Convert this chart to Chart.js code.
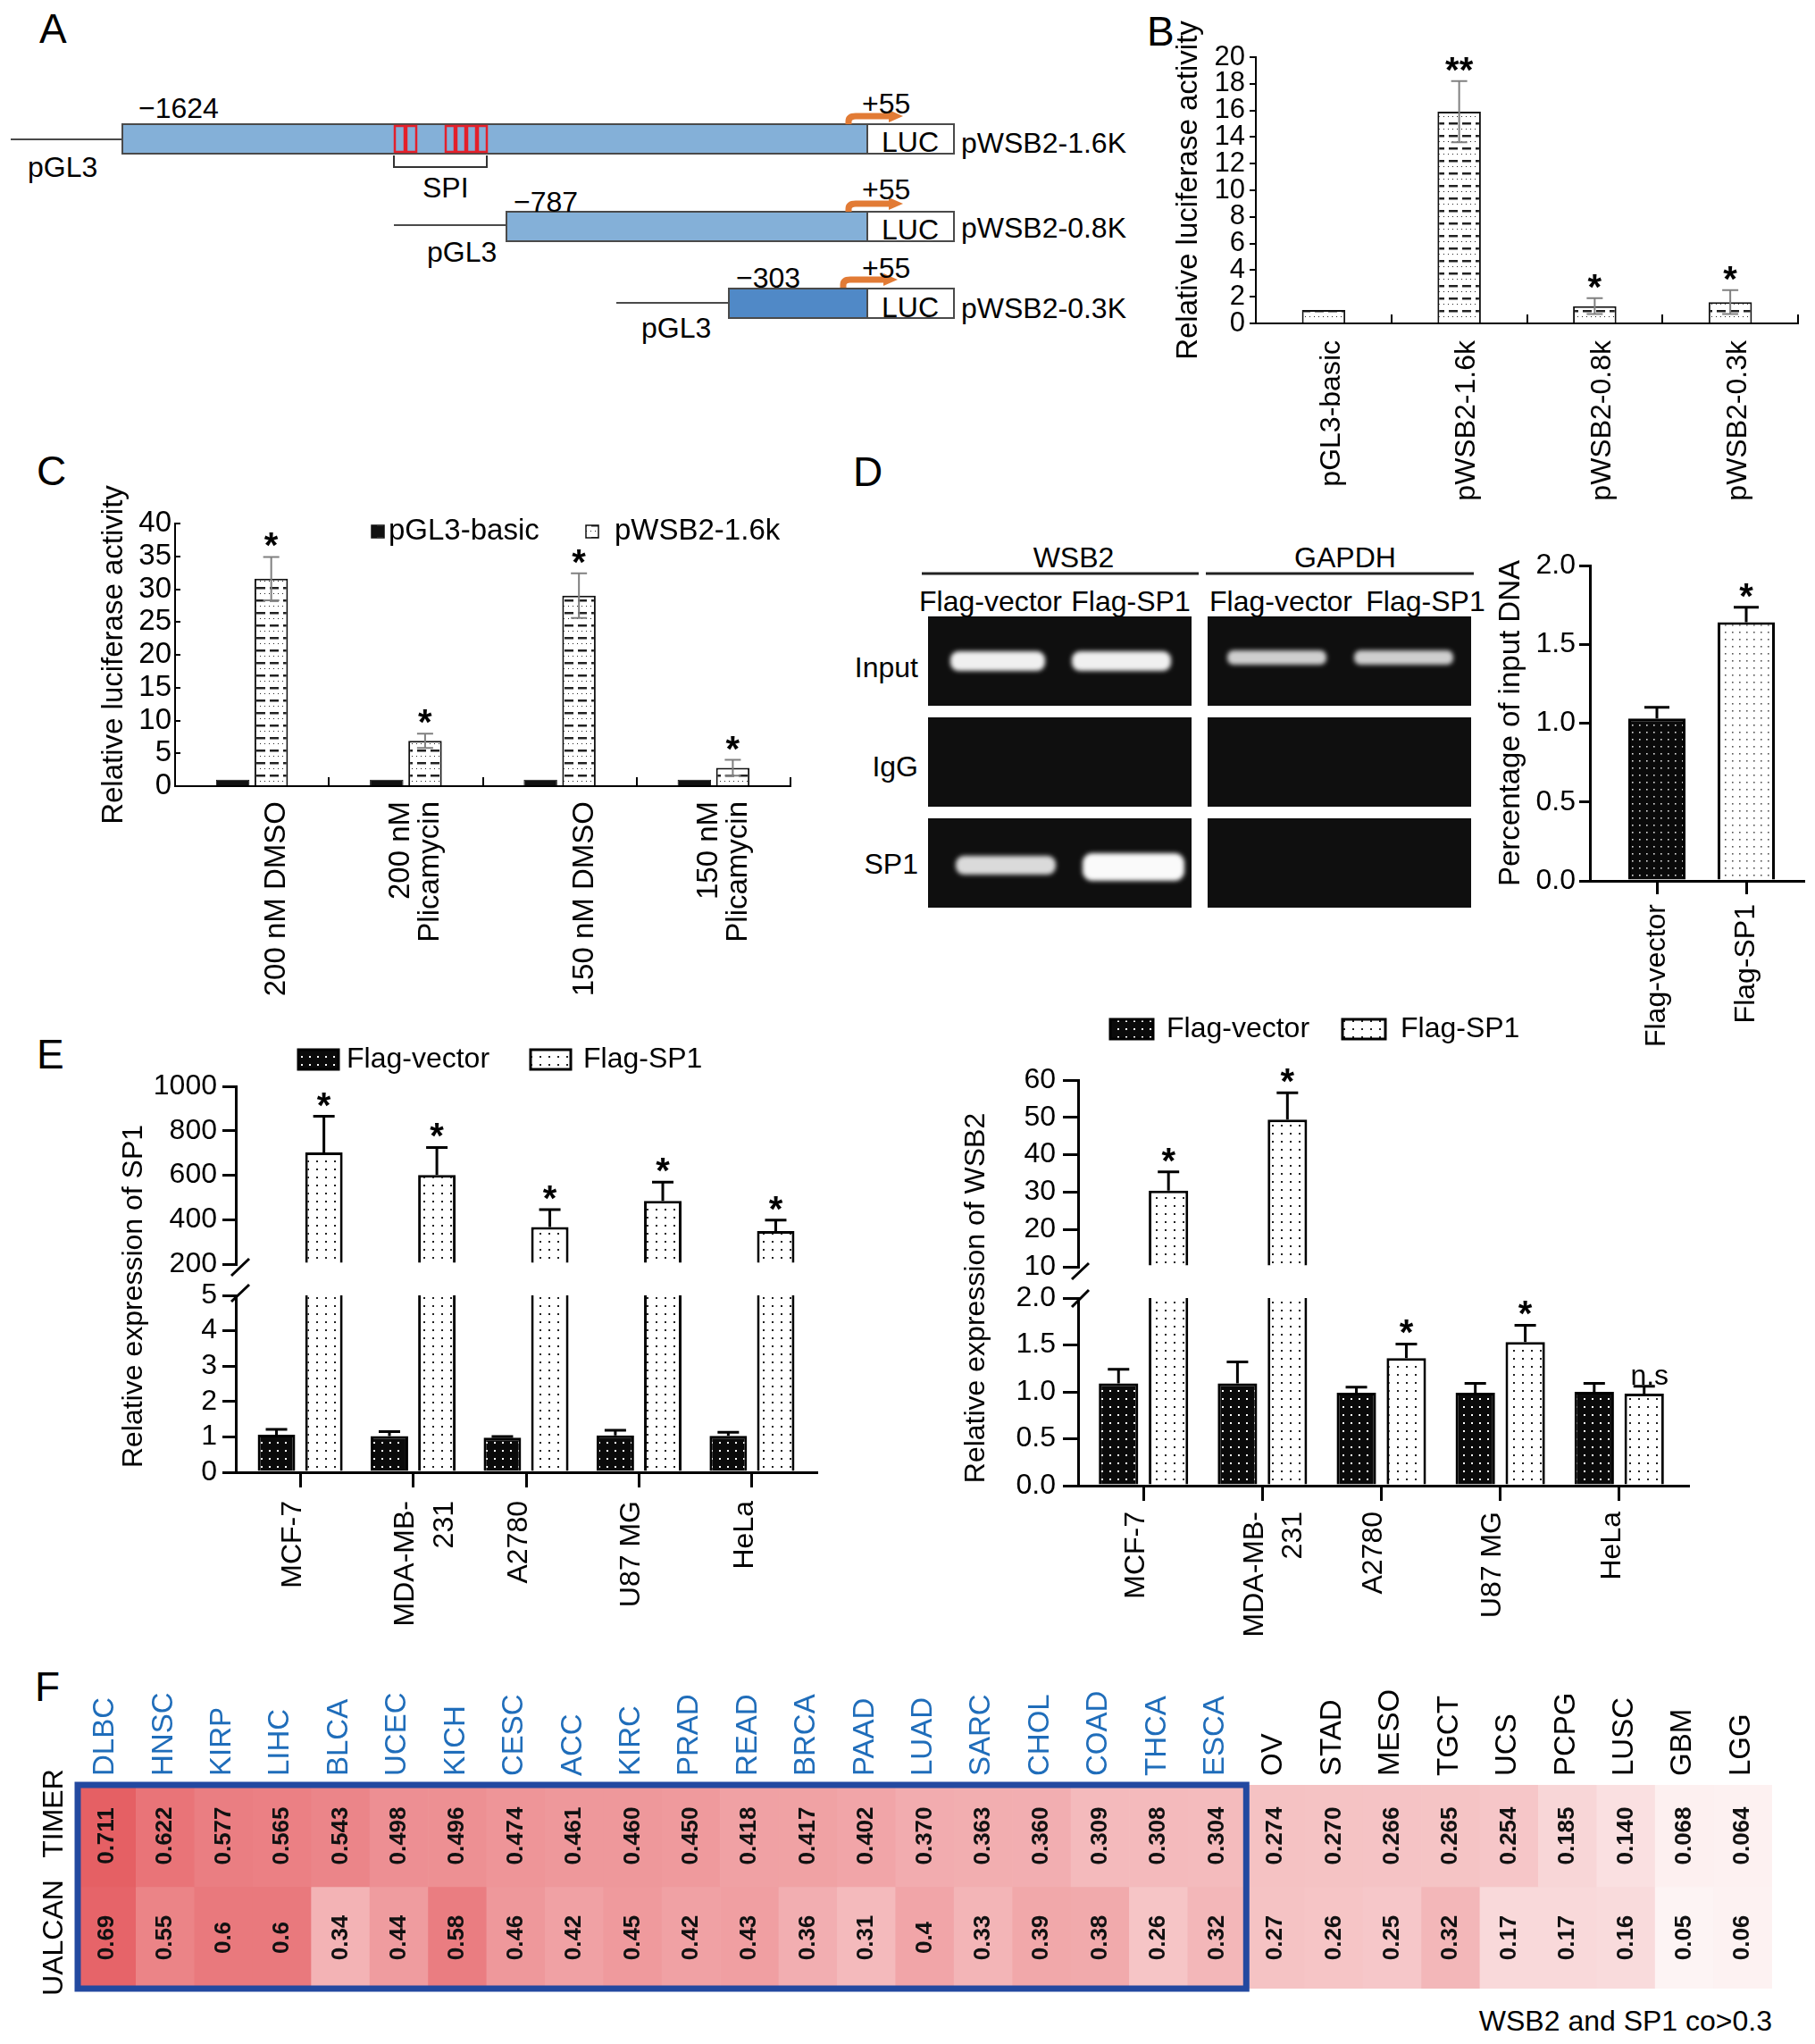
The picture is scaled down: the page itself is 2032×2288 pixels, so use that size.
<!DOCTYPE html>
<html>
<head>
<meta charset="utf-8">
<script src="https://cdn.jsdelivr.net/npm/chart.js@4.4.1/dist/chart.umd.min.js"></script>
<style>
  body { margin: 0; background: #fff; }
  #page { position: relative; width: 2032px; height: 2288px; overflow: hidden; }
  #page canvas, #page svg { position: absolute; left: 0; top: 0; }
</style>
</head>
<body>
<div id="page">
<svg width="2032" height="2288" font-family="'Liberation Sans', Arial, sans-serif" font-size="32">
  <defs>
    <filter id="glow" x="-20%" y="-80%" width="140%" height="260%"><feGaussianBlur stdDeviation="2.5"/></filter>
  </defs>
  <g font-size="46">
    <text x="44" y="48">A</text><text x="1284" y="51">B</text><text x="41" y="543">C</text>
    <text x="955" y="544">D</text><text x="41" y="1196">E</text><text x="39" y="1904">F</text>
  </g>

  <!-- panel A: promoter constructs -->
  <g stroke="#4a4a4a" stroke-width="2">
    <line x1="12" y1="156" x2="137" y2="156"/>
    <rect x="137" y="139" width="834" height="33" fill="#84b0d8"/>
    <rect x="971" y="139" width="97" height="33" fill="#fff"/>
    <line x1="441" y1="252" x2="567" y2="252"/>
    <rect x="567" y="237" width="404" height="33" fill="#84b0d8"/>
    <rect x="971" y="237" width="97" height="33" fill="#fff"/>
    <line x1="690" y1="339" x2="816" y2="339"/>
    <rect x="816" y="323" width="155" height="33" fill="#5089c7"/>
    <rect x="971" y="323" width="97" height="33" fill="#fff"/>
    <path d="M441 174V187H545V174" fill="none" stroke="#333"/>
  </g>
  <g fill="none" stroke="#e3202b" stroke-width="2.5">
    <rect x="442" y="141" width="11" height="29"/><rect x="455" y="141" width="11" height="29"/>
    <rect x="499" y="141" width="10" height="29"/><rect x="511" y="141" width="10" height="29"/>
    <rect x="523" y="141" width="10" height="29"/><rect x="535" y="141" width="10" height="29"/>
  </g>
  <g fill="none" stroke="#e27b35" stroke-width="7">
    <path d="M950 139V136Q950 130 958 130H999"/>
    <path d="M950 237V234Q950 228 958 228H999"/>
    <path d="M944 322V319Q944 313 952 313H993"/>
  </g>
  <g fill="#e27b35">
    <path d="M995 123L1011 130L995 137Z"/><path d="M995 221L1011 228L995 235Z"/><path d="M989 306L1005 313L989 320Z"/>
  </g>
  <g>
    <text x="155" y="132">−1624</text><text x="31" y="198">pGL3</text><text x="473" y="221">SPI</text>
    <text x="965" y="127">+55</text><text x="1019" y="170" text-anchor="middle">LUC</text><text x="1076" y="171">pWSB2-1.6K</text>
    <text x="575" y="237">−787</text><text x="478" y="293">pGL3</text>
    <text x="965" y="223">+55</text><text x="1019" y="268" text-anchor="middle">LUC</text><text x="1076" y="266">pWSB2-0.8K</text>
    <text x="824" y="322">−303</text><text x="718" y="378">pGL3</text>
    <text x="965" y="311">+55</text><text x="1019" y="355" text-anchor="middle">LUC</text><text x="1076" y="356">pWSB2-0.3K</text>
  </g>

  <!-- panel D: ChIP gels -->
  <g fill="#0f0f0f">
    <rect x="1039" y="690" width="295" height="100"/><rect x="1352" y="690" width="295" height="100"/>
    <rect x="1039" y="803" width="295" height="100"/><rect x="1352" y="803" width="295" height="100"/>
    <rect x="1039" y="916" width="295" height="100"/><rect x="1352" y="916" width="295" height="100"/>
  </g>
  <g filter="url(#glow)">
    <rect x="1064" y="729" width="106" height="22" rx="9" fill="#f0f0f0"/>
    <rect x="1200" y="729" width="111" height="22" rx="9" fill="#f0f0f0"/>
    <rect x="1374" y="728" width="111" height="16" rx="7" fill="#cfcfcf"/>
    <rect x="1516" y="728" width="111" height="16" rx="7" fill="#cfcfcf"/>
    <rect x="1070" y="958" width="112" height="21" rx="9" fill="#dadada"/>
    <rect x="1212" y="955" width="114" height="31" rx="11" fill="#fafafa"/>
  </g>
  <g stroke="#222" stroke-width="3">
    <line x1="1032" y1="642" x2="1342" y2="642"/><line x1="1350" y1="642" x2="1650" y2="642"/>
  </g>
  <g text-anchor="middle">
    <text x="1202" y="635">WSB2</text><text x="1506" y="635">GAPDH</text>
    <text x="1109" y="684">Flag-vector</text><text x="1266" y="684">Flag-SP1</text>
    <text x="1434" y="684">Flag-vector</text><text x="1596" y="684">Flag-SP1</text>
  </g>
  <g text-anchor="end">
    <text x="1028" y="758">Input</text><text x="1028" y="869">IgG</text><text x="1028" y="978">SP1</text>
    <text x="1984" y="2273">WSB2 and SP1 co&gt;0.3</text>
  </g>
</svg>
</div>
<script>
// ---------- data ----------
const bCats = ['pGL3-basic', 'pWSB2-1.6k', 'pWSB2-0.8k', 'pWSB2-0.3k'];
const bMean = [1.0, 15.9, 1.3, 1.6];
const bErr = [0, 2.3, 0.6, 0.9];
const bSig = ['', '**', '*', '*'];

const cCats = [['', '200 nM DMSO'], ['200 nM', 'Plicamycin'], ['', '150 nM DMSO'], ['150 nM', 'Plicamycin']];
const cBasic = [1.0, 1.0, 1.0, 1.0];
const cLong = [31.6, 6.9, 29.0, 2.8];
const cLongErr = [3.3, 1.1, 3.4, 1.2];
const cSig = ['*', '*', '*', '*'];

const dCats = ['Flag-vector', 'Flag-SP1'];
const dMean = [1.03, 1.64];
const dErr = [0.07, 0.095];
const dSig = ['', '*'];

const eCells = ['MCF-7', ['MDA-MB-', '231'], 'A2780', 'U87 MG', 'HeLa'];
const sp1Vec = [1.06, 1.02, 0.98, 1.04, 1.03];
const sp1VecErr = [0.15, 0.13, 0.03, 0.15, 0.10];
const sp1Sp1 = [703, 601, 367, 484, 349];
const sp1Sp1Err = [162, 124, 78, 85, 49];
const sp1Sig = ['*', '*', '*', '*', '*'];

const wsbVec = [1.09, 1.09, 0.99, 0.99, 1.0];
const wsbVecErr = [0.15, 0.23, 0.06, 0.10, 0.09];
const wsbSp1 = [30.4, 49.4, 1.36, 1.53, 0.98];
const wsbSp1Err = [5.0, 7.2, 0.15, 0.18, 0.08];
const wsbSig = ['*', '*', '*', '*', 'n.s'];

const cancers = ['DLBC', 'HNSC', 'KIRP', 'LIHC', 'BLCA', 'UCEC', 'KICH', 'CESC', 'ACC', 'KIRC', 'PRAD', 'READ',
  'BRCA', 'PAAD', 'LUAD', 'SARC', 'CHOL', 'COAD', 'THCA', 'ESCA', 'OV', 'STAD', 'MESO', 'TGCT', 'UCS', 'PCPG',
  'LUSC', 'GBM', 'LGG'];
const timerCo = [0.711, 0.622, 0.577, 0.565, 0.543, 0.498, 0.496, 0.474, 0.461, 0.460, 0.450, 0.418, 0.417,
  0.402, 0.370, 0.363, 0.360, 0.309, 0.308, 0.304, 0.274, 0.270, 0.266, 0.265, 0.254, 0.185, 0.140, 0.068, 0.064];
const ualcanCo = [0.69, 0.55, 0.6, 0.6, 0.34, 0.44, 0.58, 0.46, 0.42, 0.45, 0.42, 0.43, 0.36, 0.31, 0.4, 0.33,
  0.39, 0.38, 0.26, 0.32, 0.27, 0.26, 0.25, 0.32, 0.17, 0.17, 0.16, 0.05, 0.06];
const boxedCount = 20;

// ---------- setup ----------
const FONT = "'Liberation Sans', Arial, sans-serif";
Chart.defaults.font.family = FONT;
Chart.defaults.font.size = 32;
Chart.defaults.color = '#000';
Chart.defaults.responsive = false;
Chart.defaults.animation = false;
Chart.defaults.events = [];
Chart.defaults.plugins.legend.display = false;
Chart.defaults.plugins.tooltip.enabled = false;

const page = document.getElementById('page');
function mkCanvas(left, top, w, h) {
  const c = document.createElement('canvas');
  c.width = w;
  c.height = h;
  c.style.cssText = `left:${left}px;top:${top}px;width:${w}px;height:${h}px`;
  page.appendChild(c);
  return c;
}

// fill patterns
function tile(w, h, bg, color, marks) {
  const c = document.createElement('canvas');
  c.width = w;
  c.height = h;
  const g = c.getContext('2d');
  g.fillStyle = bg;
  g.fillRect(0, 0, w, h);
  g.fillStyle = color;
  marks.forEach(m => g.fillRect(m[0], m[1], m[2], m[3]));
  return g.createPattern(c, 'repeat');
}
const dashFill = tile(15, 14, '#fff', '#222', [[2, 5, 10, 2.5], [1, 12, 1, 1], [6, 12, 1, 1], [11, 12, 1, 1]]);
const darkDash = tile(15, 14, '#111', '#888', [[2, 5, 10, 2]]);
const vecDots = tile(9, 9, '#0a0a0a', '#fff', [[4, 4, 2, 2]]);
const sp1Dots = tile(10, 9, '#fff', '#222', [[4, 4, 2, 2]]);
const vecDotsD = tile(8, 8, '#0a0a0a', '#ddd', [[3, 3, 1.6, 1.6]]);
const sp1DotsD = tile(8, 8, '#fff', '#555', [[3, 3, 1.6, 1.6]]);

const fixW = w => s => { s.width = w; s.paddingTop = 0; s.paddingBottom = 0; };
const fixH = h => s => { s.height = h; s.paddingLeft = 0; s.paddingRight = 0; };
const blackLine = w => ({ color: '#000', width: w });
// one tick per category index on a linear x axis
const indexTicks = cats => s => { s.ticks = cats.map((c, i) => ({ value: i })); };

// ---------- plugins ----------
const errBars = {
  id: 'errBars',
  afterDatasetsDraw(chart, args, o) {
    if (!o.err) return;
    const { ctx, chartArea: ca } = chart;
    const y = chart.scales.y;
    chart.data.datasets.forEach((ds, di) => {
      const errs = o.err[di];
      const sig = o.sig ? o.sig[di] : null;
      chart.getDatasetMeta(di).data.forEach((bar, i) => {
        const raw = ds.data[i];
        const v = typeof raw === 'object' ? raw.y : raw;
        const e = errs ? errs[i] : 0;
        const top = y.getPixelForValue(v + e);
        ctx.save();
        ctx.beginPath();
        ctx.rect(ca.left, ca.top - 4, ca.width, ca.height + 4);
        ctx.clip();
        if (e) {
          const bot = y.getPixelForValue(o.both ? v - e : v);
          const hc = o.cap / 2;
          ctx.strokeStyle = o.color;
          ctx.lineWidth = o.width;
          ctx.beginPath();
          ctx.moveTo(bar.x, bot);
          ctx.lineTo(bar.x, top);
          ctx.moveTo(bar.x - hc, top);
          ctx.lineTo(bar.x + hc, top);
          if (o.both) {
            ctx.moveTo(bar.x - hc, bot);
            ctx.lineTo(bar.x + hc, bot);
          }
          ctx.stroke();
        }
        ctx.restore();
        if (sig && sig[i]) {
          const star = sig[i][0] === '*';
          ctx.save();
          ctx.beginPath();
          ctx.rect(ca.left, ca.top - 50, ca.width, ca.height + 50);
          ctx.clip();
          ctx.font = star ? `bold 40px ${FONT}` : `32px ${FONT}`;
          ctx.fillStyle = '#000';
          ctx.textAlign = 'center';
          ctx.fillText(sig[i], bar.x + (star ? 0 : 6), top + (star ? 1 : -2));
          ctx.restore();
        }
      });
    });
  }
};

const boxLegend = {
  id: 'boxLegend',
  afterDraw(chart, args, o) {
    if (!o.items) return;
    const { ctx } = chart;
    ctx.save();
    ctx.font = o.font;
    ctx.textBaseline = 'middle';
    o.items.forEach((it, i) => {
      const ds = chart.data.datasets[i];
      ctx.fillStyle = ds.backgroundColor;
      ctx.fillRect(it.x, it.y - o.h / 2, o.w, o.h);
      ctx.lineWidth = o.lw;
      ctx.strokeStyle = ds.borderColor;
      ctx.strokeRect(it.x, it.y - o.h / 2, o.w, o.h);
      ctx.fillStyle = '#000';
      ctx.fillText(ds.label, it.tx, it.y);
    });
    ctx.restore();
  }
};

const extras = {
  id: 'extras',
  afterDraw(chart, args, o) {
    const { ctx } = chart;
    (o.texts || []).forEach(t => {
      ctx.save();
      ctx.translate(t.x, t.y);
      ctx.rotate(t.rot || 0);
      ctx.font = t.font;
      ctx.fillStyle = '#000';
      ctx.textAlign = 'center';
      ctx.textBaseline = 'middle';
      ctx.fillText(t.text, 0, 0);
      ctx.restore();
    });
    (o.slashes || []).forEach(s => {
      ctx.save();
      ctx.beginPath();
      ctx.moveTo(s[0], s[1]);
      ctx.lineTo(s[2], s[3]);
      ctx.lineWidth = 3;
      ctx.strokeStyle = '#000';
      ctx.stroke();
      ctx.restore();
    });
  }
};

const heatLabels = {
  id: 'heatLabels',
  afterDatasetsDraw(chart, args, o) {
    if (!o.box) return;
    const { ctx, chartArea: ca } = chart;
    ctx.save();
    ctx.font = `bold 26px ${FONT}`;
    ctx.fillStyle = '#111';
    ctx.textAlign = 'center';
    ctx.textBaseline = 'middle';
    chart.data.datasets.forEach((ds, di) => {
      chart.getDatasetMeta(di).data.forEach((bar, i) => {
        ctx.save();
        ctx.translate(bar.x, (bar.y + bar.base) / 2);
        ctx.rotate(-Math.PI / 2);
        ctx.fillText(ds.vals[i], 0, 0);
        ctx.restore();
      });
    });
    // box round the columns with co > 0.3
    const bars = chart.getDatasetMeta(0).data;
    const last = bars[o.box - 1];
    ctx.strokeStyle = '#2349a0';
    ctx.lineWidth = 7;
    ctx.strokeRect(ca.left, ca.top, last.x + last.width / 2 - ca.left, ca.height);
    // row names
    const y = chart.scales.y;
    ctx.font = `32px ${FONT}`;
    ctx.fillStyle = '#000';
    chart.data.datasets.forEach((ds, r) => {
      ctx.save();
      ctx.translate(ca.left - 26, y.getPixelForValue(r + 0.5) + o.rowShift[r]);
      ctx.rotate(-Math.PI / 2);
      ctx.fillText(ds.label, 0, 0);
      ctx.restore();
    });
    ctx.restore();
  }
};

Chart.register(errBars, boxLegend, extras, heatLabels);

// ---------- B ----------
new Chart(mkCanvas(1290, 20, 742, 560), {
  type: 'bar',
  data: {
    labels: bCats,
    datasets: [{ data: bMean, backgroundColor: dashFill, borderColor: '#111', borderWidth: 2,
      barPercentage: 0.32, categoryPercentage: 1 }]
  },
  options: {
    layout: { padding: { left: 0, top: 44, right: 19, bottom: 0 } },
    scales: {
      x: {
        afterFit: fixH(218),
        grid: { offset: true, drawOnChartArea: false, tickLength: -10, color: '#000', lineWidth: 2 },
        border: blackLine(2),
        ticks: { autoSkip: false, minRotation: 90, maxRotation: 90, padding: 29, labelOffset: 9, font: { size: 32 } }
      },
      y: {
        afterFit: fixW(116), min: 0, max: 20,
        ticks: { stepSize: 2, autoSkip: false, padding: 5, font: { size: 31 } },
        grid: { drawOnChartArea: false, tickLength: 7, color: '#000', lineWidth: 2 },
        border: blackLine(2),
        title: { display: true, text: 'Relative luciferase activity', font: { size: 33 }, padding: { top: 21 } }
      }
    },
    plugins: { errBars: { err: [bErr], both: true, color: '#808080', width: 2, cap: 18, sig: [bSig] } }
  }
});

// ---------- C ----------
new Chart(mkCanvas(60, 540, 860, 600), {
  type: 'bar',
  data: {
    labels: cCats,
    datasets: [
      { label: 'pGL3-basic', data: cBasic, backgroundColor: darkDash, borderColor: '#111', borderWidth: 1 },
      { label: 'pWSB2-1.6k', data: cLong, backgroundColor: dashFill, borderColor: '#111', borderWidth: 2 }
    ]
  },
  options: {
    datasets: { bar: { categoryPercentage: 0.5, barPercentage: 0.87 } },
    layout: { padding: { left: 0, top: 46, right: 35, bottom: 0 } },
    scales: {
      x: {
        afterFit: fixH(260),
        grid: { offset: true, drawOnChartArea: false, tickLength: -10, color: '#000', lineWidth: 2 },
        border: blackLine(2),
        ticks: { autoSkip: false, minRotation: 90, maxRotation: 90, padding: 27, labelOffset: -5,
          font: { size: 33, lineHeight: 1 } }
      },
      y: {
        afterFit: fixW(136), min: 0, max: 40,
        ticks: { stepSize: 5, autoSkip: false, padding: 10, font: { size: 33 } },
        grid: { drawOnChartArea: false, tickLength: -6, color: '#000', lineWidth: 2 },
        border: blackLine(2),
        title: { display: true, text: 'Relative luciferase activity', font: { size: 33 }, padding: { top: 48 } }
      }
    },
    plugins: {
      errBars: { err: [null, cLongErr], both: true, color: '#808080', width: 2, cap: 18, sig: [null, cSig] },
      boxLegend: { items: [{ x: 356, y: 55, tx: 375 }, { x: 596, y: 55, tx: 628 }], w: 14, h: 14, lw: 1.5,
        font: `33px ${FONT}` }
    }
  }
});

// ---------- D (ChIP quantification) ----------
new Chart(mkCanvas(1640, 600, 392, 600), {
  type: 'bar',
  data: {
    datasets: [{ data: dMean.map((v, i) => ({ x: i, y: v })), backgroundColor: [vecDotsD, sp1DotsD],
      borderColor: '#000', borderWidth: 3, categoryPercentage: 0.8, barPercentage: 0.8 }]
  },
  options: {
    layout: { padding: { left: 0, top: 33, right: 13, bottom: 0 } },
    scales: {
      x: {
        type: 'linear', bounds: 'data', offset: false, min: -0.75, max: 1.64, afterFit: fixH(214),
        afterBuildTicks: indexTicks(dCats),
        grid: { offset: false, drawOnChartArea: false, tickLength: 15, color: '#000', lineWidth: 3 },
        border: blackLine(3),
        ticks: { autoSkip: false, minRotation: 90, maxRotation: 90, padding: 11, callback: v => dCats[v],
          font: { size: 32 } }
      },
      y: {
        afterFit: fixW(140), min: 0, max: 2,
        ticks: { stepSize: 0.5, autoSkip: false, padding: 4, callback: v => v.toFixed(1), font: { size: 32 } },
        grid: { drawOnChartArea: false, tickLength: 12, color: '#000', lineWidth: 3 },
        border: blackLine(3),
        title: { display: true, text: 'Percentage of input DNA', font: { size: 33 }, padding: { top: 32 } }
      }
    },
    plugins: { errBars: { err: [dErr], color: '#000', width: 3, cap: 28, sig: [dSig] } }
  }
});

// ---------- E (broken y axes: lower and upper segment share one box) ----------
function eDatasets(vec, sp1, base) {
  return [
    { label: 'Flag-vector', data: vec.map((v, i) => ({ x: i, y: v })), backgroundColor: vecDots,
      borderColor: '#000', borderWidth: 3, clip: 0, base },
    { label: 'Flag-SP1', data: sp1.map((v, i) => ({ x: i, y: v })), backgroundColor: sp1Dots,
      borderColor: '#000', borderWidth: 3, clip: 0, base }
  ];
}

function brokenChart(cfg) {
  const [L, T, W, H] = cfg.box;
  const xAxis = show => ({
    type: 'linear', bounds: 'data', offset: false, min: cfg.xMin, max: cfg.xMax, display: show,
    afterFit: fixH(show ? H - cfg.lo.bottom : 0),
    afterBuildTicks: indexTicks(cfg.cats),
    grid: { offset: false, drawOnChartArea: false, tickLength: 17, color: '#000', lineWidth: 3 },
    border: blackLine(3),
    ticks: { autoSkip: false, minRotation: 90, maxRotation: 90, padding: cfg.labelPad, labelOffset: -8,
      callback: v => cfg.cats[v], font: { size: 32, lineHeight: 1.35 } }
  });
  const yAxis = (range, fmt) => ({
    afterFit: fixW(cfg.lo.left), min: range[0], max: range[1],
    ticks: { stepSize: range[2], autoSkip: false, padding: cfg.yPad, callback: fmt, font: { size: 32 } },
    grid: { drawOnChartArea: false, tickLength: cfg.yTick, color: '#000', lineWidth: 3 },
    border: blackLine(3)
  });
  const err = { err: [cfg.vecErr, cfg.sp1Err], color: '#000', width: 3, cap: 24, sig: [null, cfg.sig] };
  const bar = { categoryPercentage: 0.84, barPercentage: 0.79 };

  // lower segment
  new Chart(mkCanvas(L, T, W, H), {
    type: 'bar',
    data: { datasets: eDatasets(cfg.vec, cfg.sp1, cfg.lower[0]) },
    options: {
      datasets: { bar },
      layout: { padding: { left: 0, top: cfg.lo.top, right: W - cfg.lo.right, bottom: 0 } },
      scales: { x: xAxis(true), y: yAxis(cfg.lower, cfg.fmt) },
      plugins: { errBars: err, extras: { texts: [cfg.title], slashes: cfg.slashes } }
    }
  });

  // upper segment
  new Chart(mkCanvas(L, T, W, H), {
    type: 'bar',
    data: { datasets: eDatasets(cfg.vec, cfg.sp1, cfg.upper[0]) },
    options: {
      datasets: { bar },
      layout: { padding: { left: 0, top: cfg.hi.top, right: W - cfg.lo.right, bottom: H - cfg.hi.bottom } },
      scales: { x: xAxis(false), y: yAxis(cfg.upper, v => String(v)) },
      plugins: {
        errBars: err,
        boxLegend: { items: cfg.legend, w: cfg.legendW, h: 22, lw: 3, font: `32px ${FONT}` }
      }
    }
  });
}

brokenChart({
  box: [0, 1160, 940, 680],
  lo: { left: 264, top: 290, right: 914, bottom: 488 },
  hi: { top: 56, bottom: 255 },
  lower: [0, 5, 1], upper: [200, 1000, 200], fmt: v => String(v),
  xMin: -0.57, xMax: 4.57, yTick: 15, yPad: 6, labelPad: 15,
  cats: eCells, vec: sp1Vec, vecErr: sp1VecErr, sp1: sp1Sp1, sp1Err: sp1Sp1Err, sig: sp1Sig,
  title: { text: 'Relative expression of SP1', x: 150, y: 291, rot: -Math.PI / 2, font: `32px ${FONT}` },
  slashes: [[259, 268, 279, 249], [259, 297, 279, 278]],
  legend: [{ x: 334, y: 26, tx: 388 }, { x: 594, y: 26, tx: 653 }], legendW: 45
});

brokenChart({
  box: [1040, 1120, 992, 720],
  lo: { left: 167, top: 333, right: 850, bottom: 543 },
  hi: { top: 89, bottom: 298 },
  lower: [0, 2, 0.5], upper: [10, 60, 10], fmt: v => v.toFixed(1),
  xMin: -0.55, xMax: 4.58, yTick: 17, yPad: 8, labelPad: 12,
  cats: eCells, vec: wsbVec, vecErr: wsbVecErr, sp1: wsbSp1, sp1Err: wsbSp1Err, sig: wsbSig,
  title: { text: 'Relative expression of WSB2', x: 53, y: 333, rot: -Math.PI / 2, font: `32px ${FONT}` },
  slashes: [[160, 312, 179, 294], [160, 343, 179, 324]],
  legend: [{ x: 203, y: 32, tx: 266 }, { x: 463, y: 32, tx: 528 }], legendW: 48
});

// ---------- F (heatmap as stacked unit bars coloured by value) ----------
function heat(v) {
  const t = Math.min(v / 0.75, 1);
  return `rgb(${Math.round(255 - 27 * t)},${Math.round(255 - 168 * t)},${Math.round(255 - 163 * t)})`;
}

new Chart(mkCanvas(0, 1860, 2032, 428), {
  type: 'bar',
  data: {
    labels: cancers,
    datasets: [
      { label: 'TIMER', data: timerCo.map(() => 1), backgroundColor: timerCo.map(heat),
        vals: timerCo.map(v => v.toFixed(3)) },
      { label: 'UALCAN', data: ualcanCo.map(() => 1), backgroundColor: ualcanCo.map(heat),
        vals: ualcanCo.map(v => String(v)) }
    ]
  },
  options: {
    datasets: { bar: { barPercentage: 1, categoryPercentage: 1, borderWidth: 0 } },
    layout: { padding: { left: 87, right: 48, top: 0, bottom: 62 } },
    scales: {
      x: {
        position: 'top', stacked: true, afterFit: fixH(138),
        grid: { display: false, drawTicks: false },
        border: { display: false },
        ticks: { autoSkip: false, minRotation: 90, maxRotation: 90, padding: 10, labelOffset: 38, font: { size: 33 },
          color: c => (c.index < boxedCount ? '#1f6dba' : '#000') }
      },
      y: { display: false, stacked: true, reverse: true, min: 0, max: 2 }
    },
    plugins: { heatLabels: { box: boxedCount, rowShift: [-25, 0] } }
  }
});
</script>
</body>
</html>
